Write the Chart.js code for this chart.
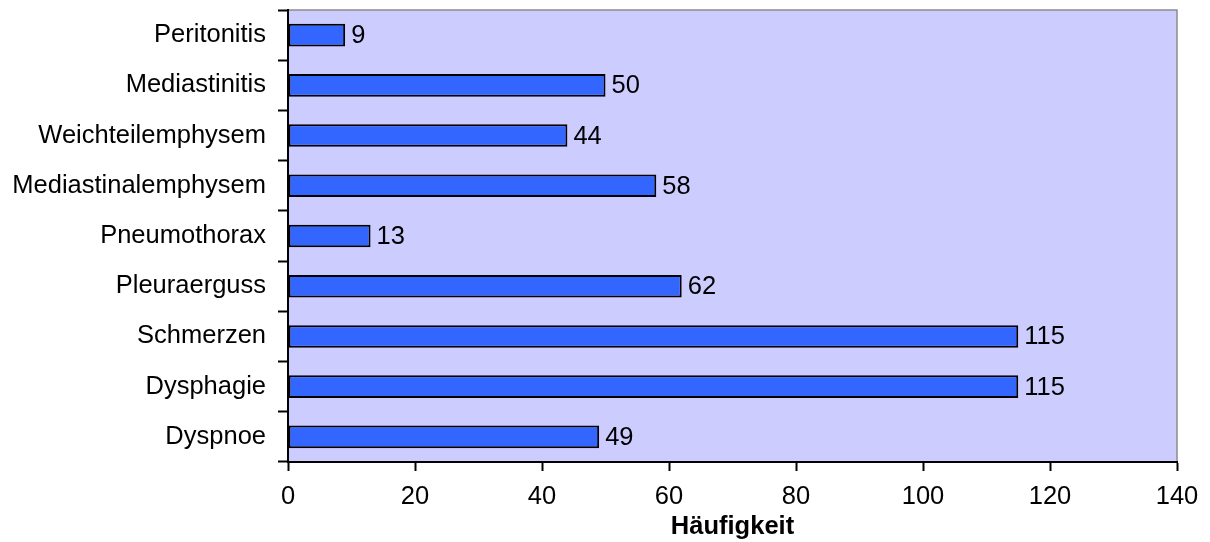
<!DOCTYPE html>
<html>
<head>
<meta charset="utf-8">
<script src="https://cdn.jsdelivr.net/npm/chart.js@4/dist/chart.umd.min.js"></script>
<style>
  html, body { margin: 0; padding: 0; background: #fff; }
  #wrap { width: 1210px; height: 542px; }
</style>
</head>
<body>
<div id="wrap"><canvas id="myChart" width="1210" height="542"></canvas></div>
<script>
// Befunde, von oben nach unten
var befunde = ['Peritonitis', 'Mediastinitis', 'Weichteilemphysem', 'Mediastinalemphysem',
    'Pneumothorax', 'Pleuraerguss', 'Schmerzen', 'Dysphagie', 'Dyspnoe'];
var haeufigkeit = [9, 50, 44, 58, 13, 62, 115, 115, 49];
var xTicks = [0, 20, 40, 60, 80, 100, 120, 140];

Chart.defaults.font.family = '"Liberation Sans", Arial, sans-serif';
Chart.defaults.font.size = 25.5;
Chart.defaults.color = '#000';

// plot area background with the thin grey frame
const plotBackground = {
    id: 'plotBackground',
    beforeDraw: function (chart) {
        var a = chart.chartArea, ctx = chart.ctx;
        ctx.save();
        ctx.fillStyle = '#CCCCFF';
        ctx.fillRect(a.left, a.top, a.right - a.left, a.bottom - a.top);
        ctx.strokeStyle = '#8c8c8c';
        ctx.lineWidth = 1.5;
        ctx.beginPath();
        ctx.moveTo(a.left, a.top);
        ctx.lineTo(a.right, a.top);
        ctx.lineTo(a.right, a.bottom);
        ctx.stroke();
        ctx.restore();
    }
};

// value next to each bar
const valueLabels = {
    id: 'valueLabels',
    afterDatasetsDraw: function (chart) {
        var ctx = chart.ctx;
        var meta = chart.getDatasetMeta(0);
        ctx.save();
        ctx.fillStyle = '#000';
        ctx.font = '25.5px "Liberation Sans", Arial, sans-serif';
        ctx.textAlign = 'left';
        ctx.textBaseline = 'middle';
        meta.data.forEach(function (bar, i) {
            ctx.fillText(String(haeufigkeit[i]), bar.x + 6, bar.y + 1);
        });
        ctx.restore();
    }
};

const data = {
    labels: befunde,
    datasets: [{
        data: haeufigkeit,
        backgroundColor: '#3366FF',
        borderColor: '#000',
        borderWidth: 2,
        borderSkipped: false,
        barPercentage: 0.45,
        categoryPercentage: 1
    }]
};

const config = {
    type: 'bar',
    data: data,
    options: {
        indexAxis: 'y',
        responsive: false,
        animation: false,
        layout: { padding: { top: 10, right: 33, bottom: 0, left: 0 } },
        plugins: {
            legend: { display: false },
            tooltip: { enabled: false }
        },
        scales: {
            x: {
                min: 0,
                max: 140,
                afterBuildTicks: function (scale) {
                    scale.ticks = xTicks.map(function (v) { return { value: v }; });
                },
                afterFit: function (scale) { scale.height = 80; },
                grid: { drawOnChartArea: false, tickLength: 9, color: '#000', tickWidth: 2 },
                border: { color: '#000', width: 2 },
                ticks: { padding: 11, maxRotation: 0 },
                title: {
                    display: true,
                    text: 'Häufigkeit',
                    font: { weight: 'bold', size: 25.5 },
                    padding: { top: 0, bottom: 0 }
                }
            },
            y: {
                afterFit: function (scale) {
                    scale.width = 288;
                    scale.paddingTop = 0;
                    scale.paddingBottom = 0;
                },
                grid: { drawOnChartArea: false, offset: true, tickLength: 10, color: '#000', tickWidth: 2 },
                border: { color: '#000', width: 2 },
                ticks: { padding: 12 }
            }
        }
    },
    plugins: [plotBackground, valueLabels]
};

var myChart = new Chart(document.getElementById('myChart'), config);
</script>
</body>
</html>
